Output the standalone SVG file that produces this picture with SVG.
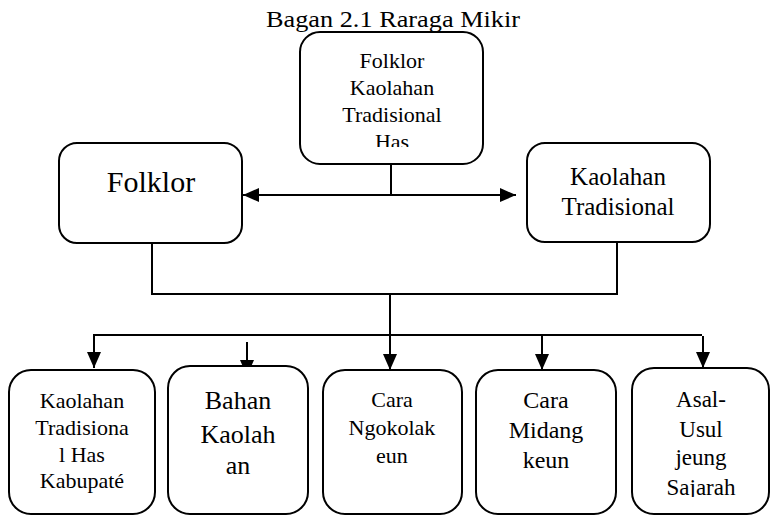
<svg xmlns="http://www.w3.org/2000/svg" width="771" height="515" viewBox="0 0 771 515" font-family="'Liberation Serif','Times New Roman',serif">
<style>
.box{fill:#fff;stroke:#000;stroke-width:2}
.t{font-family:"Liberation Serif","Times New Roman",serif;fill:#000;text-anchor:middle}
.c{fill:none;stroke:#000;stroke-width:2}
</style>
<defs>
<marker id="ah" viewBox="0 0 16 14" refX="16" refY="7" markerWidth="16" markerHeight="14" markerUnits="userSpaceOnUse" orient="auto-start-reverse">
<path d="M0,0 L16,7 L0,14 Z" fill="#000"/>
</marker>
<clipPath id="clipTop"><rect x="300" y="32" width="184" height="115"/></clipPath>
<clipPath id="clipB5"><rect x="632" y="368" width="139" height="129"/></clipPath>
</defs>
<rect width="771" height="515" fill="#fff"/>
<text class="t" x="393" y="27" font-size="24" textLength="254" lengthAdjust="spacingAndGlyphs">Bagan 2.1 Raraga Mikir</text>

<g id="connectors">
<path class="c" d="M243,195 H516" marker-start="url(#ah)" marker-end="url(#ah)"/>
<path class="c" d="M391,164 V195"/>
<path class="c" d="M152,243 V294 H617 V242"/>
<path class="c" d="M390,294 V335"/>
<path class="c" d="M93,335 H702"/>
<path class="c" d="M94,334 V368" marker-end="url(#ah)"/>
<path class="c" d="M247,342 V376" marker-end="url(#ah)"/>
<path class="c" d="M390,335 V370" marker-end="url(#ah)"/>
<path class="c" d="M542,335 V370" marker-end="url(#ah)"/>
<path class="c" d="M703,336 V368" marker-end="url(#ah)"/>
</g>

<g id="node-top">
<rect class="box" x="300" y="32" width="183" height="132" rx="20"/>
<g clip-path="url(#clipTop)">
<text class="t" font-size="22" x="392" y="68">Folklor</text>
<text class="t" font-size="22" x="392" y="95">Kaolahan</text>
<text class="t" font-size="22" x="392" y="122">Tradisional</text>
<text class="t" font-size="22" x="392" y="149">Has</text>
</g>
</g>

<g id="node-folklor">
<rect class="box" x="59" y="143" width="183" height="100" rx="18"/>
<text class="t" font-size="30" x="151" y="192">Folklor</text>
</g>

<g id="node-kaolahan">
<rect class="box" x="527" y="143" width="183" height="99" rx="18"/>
<text class="t" font-size="25" x="618" y="185">Kaolahan</text>
<text class="t" font-size="25" x="618" y="215">Tradisional</text>
</g>

<g id="node-b1">
<rect class="box" x="9" y="370" width="146" height="144" rx="22"/>
<text class="t" font-size="22" x="82" y="408">Kaolahan</text>
<text class="t" font-size="22" x="82" y="435">Tradisiona</text>
<text class="t" font-size="22" x="82" y="462">l Has</text>
<text class="t" font-size="22" x="82" y="488">Kabupaté</text>
</g>

<g id="node-b2">
<rect class="box" x="168" y="366" width="140" height="148" rx="22"/>
<text class="t" font-size="26" x="238" y="409">Bahan</text>
<text class="t" font-size="26" x="238" y="443">Kaolah</text>
<text class="t" font-size="26" x="238" y="474">an</text>
</g>

<g id="node-b3">
<rect class="box" x="323" y="370" width="139" height="144" rx="22"/>
<text class="t" font-size="22" x="392" y="407">Cara</text>
<text class="t" font-size="22" x="392" y="435">Ngokolak</text>
<text class="t" font-size="22" x="392" y="463">eun</text>
</g>

<g id="node-b4">
<rect class="box" x="476" y="370" width="140" height="144" rx="22"/>
<text class="t" font-size="24" x="546" y="408">Cara</text>
<text class="t" font-size="24" x="546" y="438">Midang</text>
<text class="t" font-size="24" x="546" y="468">keun</text>
</g>

<g id="node-b5">
<rect class="box" x="632" y="368" width="137" height="146" rx="22"/>
<g clip-path="url(#clipB5)">
<text class="t" font-size="23" x="701" y="407">Asal-</text>
<text class="t" font-size="23" x="701" y="437">Usul</text>
<text class="t" font-size="23" x="701" y="465">jeung</text>
<text class="t" font-size="23" x="701" y="495">Sajarah</text>
</g>
</g>
</svg>
